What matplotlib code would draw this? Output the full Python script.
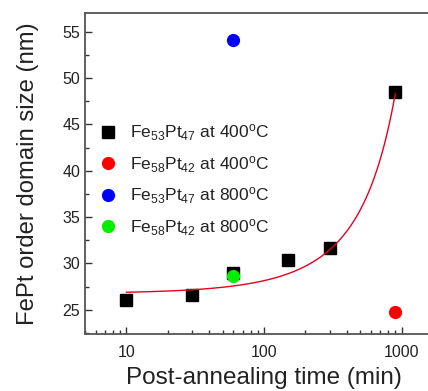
import numpy as np
import matplotlib
matplotlib.use("Agg")
import matplotlib.pyplot as plt
from matplotlib.ticker import FixedLocator, LogLocator, NullFormatter, FixedFormatter, MultipleLocator

plt.rcParams['font.family'] = ['Liberation Sans', 'DejaVu Sans']
plt.rcParams['mathtext.fontset'] = 'custom'
plt.rcParams['mathtext.rm'] = 'Liberation Sans'
plt.rcParams['mathtext.it'] = 'Liberation Sans'
plt.rcParams['mathtext.bf'] = 'Liberation Sans'

# Data
t_fe53_400 = [10, 30, 60, 150, 300, 900]
d_fe53_400 = [26.1, 26.6, 29.0, 30.4, 31.7, 48.5]
t_fe58_400 = [900]
d_fe58_400 = [24.8]
t_fe53_800 = [60]
d_fe53_800 = [54.1]
t_fe58_800 = [60]
d_fe58_800 = [28.6]

# Fit curve parameters (exponential growth fit): y = y0 + A*exp(t/tau)
fit_y0, fit_A, fit_tau = 16.42, 10.35, 800.0
fit_range = (10, 900)

labels = [r'Fe$_{53}$Pt$_{47}$ at 400$^{\rm o}$C',
          r'Fe$_{58}$Pt$_{42}$ at 400$^{\rm o}$C',
          r'Fe$_{53}$Pt$_{47}$ at 800$^{\rm o}$C',
          r'Fe$_{58}$Pt$_{42}$ at 800$^{\rm o}$C']

fig = plt.figure(figsize=(4.28, 3.91), dpi=100)
ax = fig.add_axes([85/428, 1-334/391, 358/428, (334-13)/391])

ms = 8.5
ax.plot(t_fe53_400, d_fe53_400, 's', color='black', ms=ms, label=labels[0], zorder=3)
ax.plot(t_fe58_400, d_fe58_400, 'o', color='#ff0000', ms=ms, label=labels[1], zorder=3)
ax.plot(t_fe53_800, d_fe53_800, 'o', color='#0000ff', ms=ms, label=labels[2], zorder=3)
ax.plot(t_fe58_800, d_fe58_800, 'o', color='#00ee00', ms=ms, label=labels[3], zorder=4)

tt = np.logspace(np.log10(fit_range[0]), np.log10(fit_range[1]), 300)
ax.plot(tt, fit_y0 + fit_A*np.exp(tt/fit_tau), '-', color='#e8001c', lw=1.0, zorder=5)

ax.set_xscale('log')
ax.set_xlim(5, 2000)
ax.set_ylim(22.4, 57.0)
ax.xaxis.set_major_locator(FixedLocator([10, 100, 1000]))
ax.xaxis.set_major_formatter(FixedFormatter(['10', '100', '1000']))
ax.xaxis.set_minor_locator(LogLocator(base=10, subs=np.arange(2, 10)))
ax.xaxis.set_minor_formatter(NullFormatter())
ax.yaxis.set_major_locator(MultipleLocator(5))
ax.yaxis.set_minor_locator(MultipleLocator(2.5))

ax.tick_params(which='both', direction='in', colors='#333333', labelcolor='#222222', labelsize=11.5, width=1.0)
ax.tick_params(which='major', length=5)
ax.tick_params(which='minor', length=3)
ax.tick_params(axis='x', pad=8)
for s in ax.spines.values():
    s.set_color('#555555')
    s.set_linewidth(1.3)

ax.set_xlabel('Post-annealing time (min)', fontsize=17.5, color='#222222', labelpad=5)
ax.set_ylabel('FePt order domain size (nm)', fontsize=17.2, color='#222222', labelpad=17)

leg = ax.legend(loc='upper left', bbox_to_anchor=(0.02, 0.68), frameon=False,
                fontsize=12.5, handletextpad=0.8, labelspacing=0.62, handlelength=1.0,
                borderaxespad=0)
for txt in leg.get_texts():
    txt.set_color('#222222')

fig.savefig('out.png', dpi=100)
